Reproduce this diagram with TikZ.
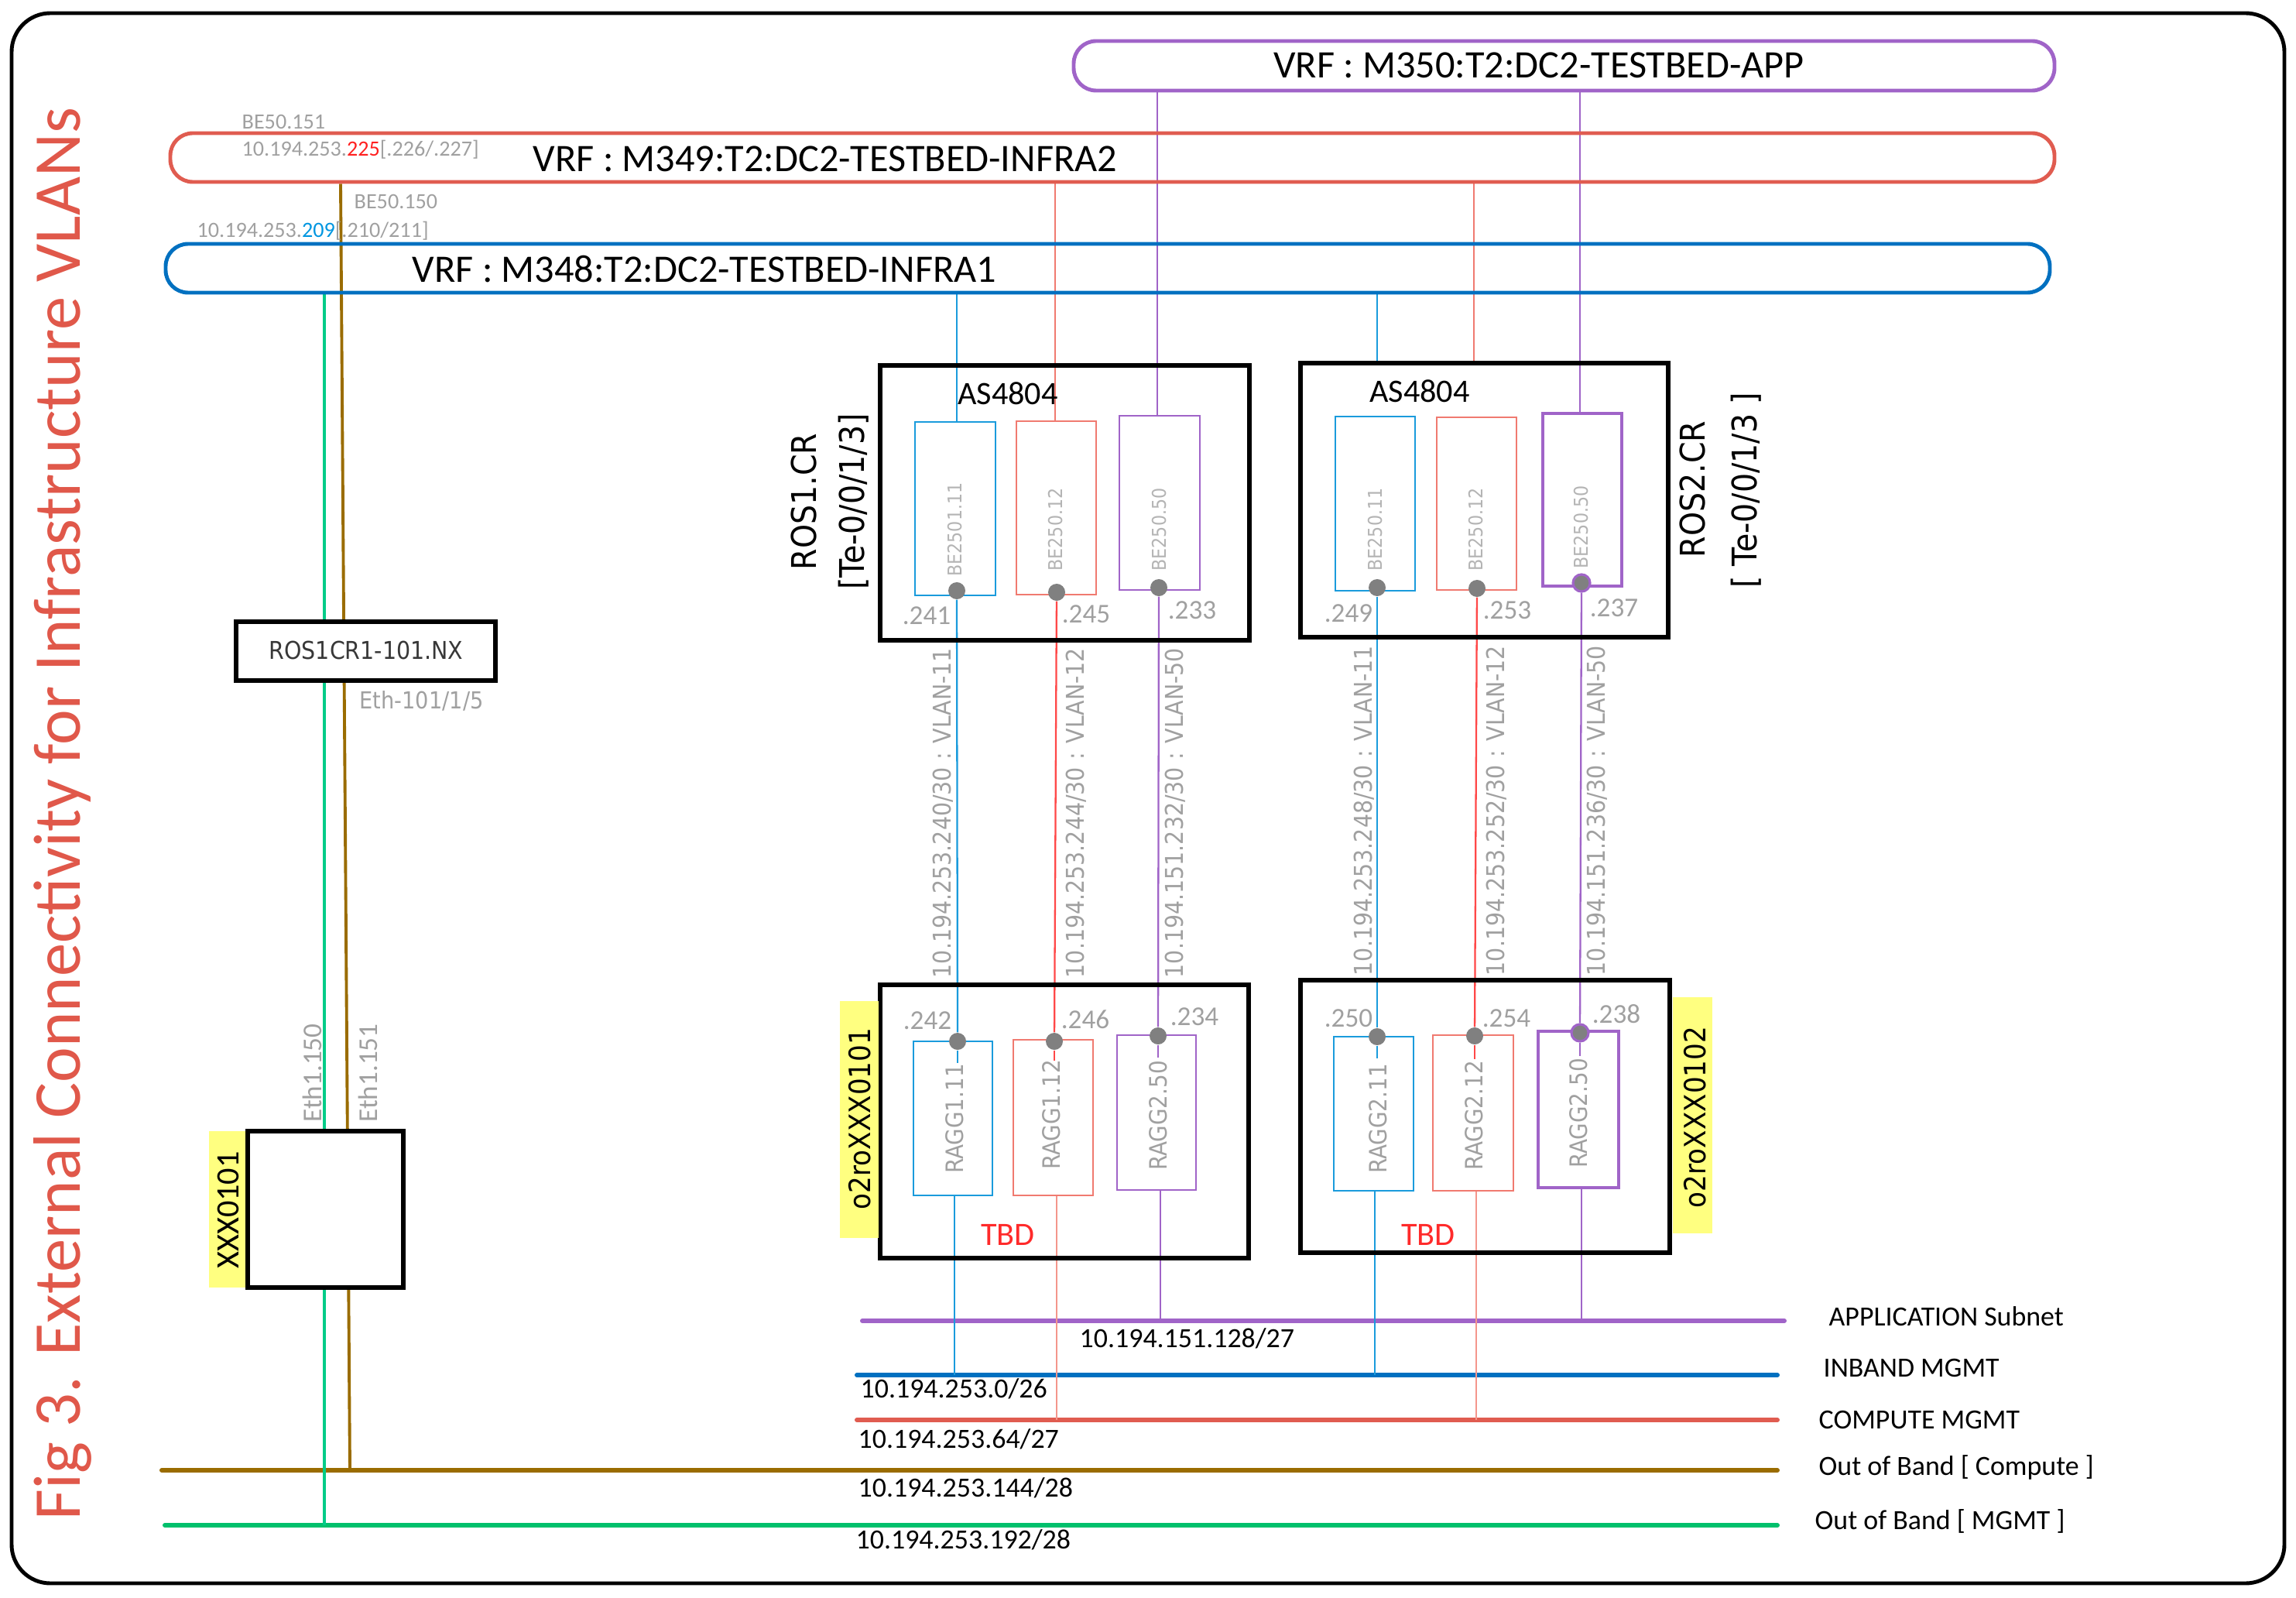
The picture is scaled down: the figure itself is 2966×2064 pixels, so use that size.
\documentclass[tikz,border=0pt]{standalone}
\usepackage{fontspec}
\setmainfont{Carlito}
\newfontfamily\geo[FakeStretch=0.9]{DejaVu Sans}
\usetikzlibrary{fit}
\pgfdeclarelayer{bg}
\pgfsetlayers{bg,main}
\definecolor{cBlueBar}{HTML}{0070C0}
\definecolor{cBlue}{HTML}{1A9BDC}
\definecolor{cRedBar}{HTML}{E05C50}
\definecolor{cRed}{HTML}{F07A70}
\definecolor{cRedV}{HTML}{FF4848}
\definecolor{cRedL}{HTML}{F4968C}
\definecolor{cPurple}{HTML}{A064C8}
\definecolor{cBrown}{HTML}{9A6C00}
\definecolor{cGreen}{HTML}{00C06C}
\definecolor{cGreenT}{HTML}{00CC88}
\definecolor{cGrey}{HTML}{A0A0A0}
\definecolor{cGreyL}{HTML}{B4B4B4}
\definecolor{cDot}{HTML}{808080}
\definecolor{cTitle}{HTML}{E0584A}
\definecolor{cYellow}{HTML}{FFFF80}
\definecolor{cTBD}{HTML}{FF2A2A}
\definecolor{cIpRed}{HTML}{FF2020}
\definecolor{cIpBlue}{HTML}{0096E0}
\newcommand{\myfs}[1]{\fontsize{#1}{#1}\selectfont}
\begin{document}
\begin{tikzpicture}[x=0.01cm,y=-0.01cm,
  vrfbar/.style={draw, line width=1.4pt, rounded corners=0.29cm, inner sep=0pt},
  devbox/.style={draw=black, line width=1.7pt, inner sep=0pt},
  devboxw/.style={devbox, fill=white},
  inbox/.style={draw, line width=0.75pt, inner sep=0pt},
  link/.style={line width=0.65pt},
  subline/.style={line width=1.7pt, line cap=round},
  portdot/.style={circle, fill=cDot, inner sep=0pt, minimum size=0.22cm},
  portlbl/.style={font=\myfs{10}, text=cGrey, inner sep=0pt},
  vlanlbl/.style={font=\geo\myfs{9}, text=cGrey, rotate=90, inner sep=0pt},
  belbl/.style={font=\geo\myfs{7}, text=cGreyL, rotate=90, inner sep=0pt},
  ragglbl/.style={font=\geo\myfs{8.8}, text=cGrey, rotate=90, inner sep=0pt},
  sublbl/.style={font=\myfs{10.2}, anchor=base west, inner sep=0pt},
  vrflbl/.style={font=\myfs{14.3}, anchor=base, inner sep=0pt},
  smallgrey/.style={font=\myfs{8}, text=cGrey, anchor=base west, inner sep=0pt},
  roslbl/.style={font=\geo\myfs{12.5}, rotate=90, anchor=base, inner sep=0pt},
  yellowbox/.style={fill=cYellow, inner sep=0pt},
]
\useasboundingbox (0,0) rectangle (2966,2064);

% frame
\node[draw=black, line width=1.4pt, rounded corners=0.5cm, inner sep=0pt, fit={(15,17) (2951,2045)}] (frame) {};

% title
\node[rotate=90, anchor=base, text=cTitle, font=\myfs{24.6}, inner sep=0pt] (title) at (103,1051) {Fig 3. External Connectivity for Infrastructure VLANs};

% VRF bars
\node[vrfbar, draw=cPurple, fit={(1387,53) (2654,117)}] (vrfApp) {};
\node[vrfbar, draw=cRedBar, fit={(220,172) (2654,235)}] (vrfI2) {};
\node[vrfbar, draw=cBlueBar, fit={(214,315) (2648,378)}] (vrfI1) {};
\node[vrflbl] (tApp) at (1988,101) {VRF : M350:T2:DC2-TESTBED-APP};
\node[vrflbl] (tI2) at (1066,222) {VRF : M349:T2:DC2-TESTBED-INFRA2};
\node[vrflbl] (tI1) at (910,365) {VRF : M348:T2:DC2-TESTBED-INFRA1};

\node[smallgrey] (l151) at (312,167) {BE50.151};
\node[smallgrey] (ip225) at (312,202) {10.194.253.\textcolor{cIpRed}{225}[.226/.227]};
\node[smallgrey] (l150) at (457,270) {BE50.150};
\node[smallgrey] (ip209) at (254,307) {10.194.253.\textcolor{cIpBlue}{209}[.210/211]};

% left devices
\node[devboxw, fit={(305,803) (640,879)}] (nx) {};
\node[font=\geo\myfs{9}, text=black!78, inner sep=0pt] (nxt) at (473,840) {ROS1CR1-101.NX};
\node[font=\geo\myfs{8.6}, text=cGrey, anchor=west, inner sep=0pt] (eth) at (464,905) {Eth-101/1/5};
\node[yellowbox, fit={(270,1461) (320,1663)}] (yx) {};
\node[devboxw, fit={(320,1461) (521,1663)}] (xxx) {};
\node[rotate=90, anchor=base, font=\myfs{12}, inner sep=0pt] (xxxt) at (308,1563) {XXX0101};
\node[rotate=90, anchor=base, font=\myfs{10}, text=cGrey, inner sep=0pt] (e150) at (415,1386) {Eth1.150};
\node[rotate=90, anchor=base, font=\myfs{10}, text=cGrey, inner sep=0pt] (e151) at (487,1386) {Eth1.151};

% ROS boxes
\node[devbox, fit={(1137,472) (1614,827)}] (ros1) {};
\node[devbox, fit={(1680,469) (2155,823)}] (ros2) {};
\node[font=\myfs{12}, inner sep=0pt] (as1) at (1302,508) {AS4804};
\node[font=\myfs{12}, inner sep=0pt] (as2) at (1834,505) {AS4804};
\node[roslbl] (r1a) at (1054,648) {ROS1.CR};
\node[roslbl] (r1b) at (1116,648) {[Te-0/0/1/3]};
\node[roslbl] (r2a) at (2202,632) {ROS2.CR};
\node[roslbl] (r2b) at (2269,633) {[ Te-0/0/1/3 ]};

\node[inbox, draw=cBlue, fit={(1182,545) (1286,769)}] (b1) {};
\node[inbox, draw=cRed, fit={(1313,544) (1416,768)}] (r1) {};
\node[inbox, draw=cPurple, fit={(1446,537) (1550,762)}] (p1) {};
\node[inbox, draw=cBlue, fit={(1725,538) (1828,763)}] (b2) {};
\node[inbox, draw=cRed, fit={(1856,539) (1959,762)}] (r2) {};
\node[inbox, draw=cPurple, line width=1.1pt, fit={(1993,534) (2095,757)}] (p2) {};
\node[belbl] (tb1) at (1234,684) {BE2501.11};
\node[belbl] (tr1) at (1364,684) {BE250.12};
\node[belbl] (tp1) at (1498,684) {BE250.50};
\node[belbl] (tb2) at (1777,684) {BE250.11};
\node[belbl] (tr2) at (1907,684) {BE250.12};
\node[belbl] (tp2) at (2043,681) {BE250.50};

\node[portdot] (d1b) at (1236,763) {};
\node[portdot] (d1r) at (1365,765) {};
\node[portdot] (d1p) at (1497,759) {};
\node[portdot] (d2b) at (1779,759) {};
\node[portdot] (d2r) at (1908,760) {};
\node[portdot, draw=cPurple, line width=0.9pt] (d2p) at (2043,753) {};

\node[portlbl] (p241) at (1197,795) {.241};
\node[portlbl] (p245) at (1403,793) {.245};
\node[portlbl] (p233) at (1540,788) {.233};
\node[portlbl] (p249) at (1742,792) {.249};
\node[portlbl] (p253) at (1947,788) {.253};
\node[portlbl] (p237) at (2085,785) {.237};

% VLAN labels
\node[vlanlbl] (v11) at (1218,1050) {10.194.253.240/30 : VLAN-11};
\node[vlanlbl] (v12) at (1390,1050) {10.194.253.244/30 : VLAN-12};
\node[vlanlbl] (v50) at (1518,1050) {10.194.151.232/30 : VLAN-50};
\node[vlanlbl] (w11) at (1762,1047) {10.194.253.248/30 : VLAN-11};
\node[vlanlbl] (w12) at (1933,1047) {10.194.253.252/30 : VLAN-12};
\node[vlanlbl] (w50) at (2063,1047) {10.194.151.236/30 : VLAN-50};

% RAGG boxes
\node[devbox, fit={(1137,1272) (1613,1625)}] (ragg1) {};
\node[devbox, fit={(1680,1266) (2157,1618)}] (ragg2) {};
\node[yellowbox, fit={(1085,1293) (1135,1599)}] (y1) {};
\node[yellowbox, fit={(2161,1288) (2212,1593)}] (y2) {};
\node[rotate=90, font=\geo\myfs{10.8}, inner sep=0pt] (o1) at (1111,1445) {o2roXXX0101};
\node[rotate=90, font=\geo\myfs{10.8}, inner sep=0pt] (o2) at (2190,1443) {o2roXXX0102};

\node[inbox, draw=cBlue, fit={(1180,1345) (1282,1544)}] (gb1) {};
\node[inbox, draw=cRed, fit={(1309,1343) (1412,1544)}] (gr1) {};
\node[inbox, draw=cPurple, fit={(1443,1337) (1545,1537)}] (gp1) {};
\node[inbox, draw=cBlue, fit={(1723,1339) (1826,1538)}] (gb2) {};
\node[inbox, draw=cRed, fit={(1851,1337) (1955,1538)}] (gr2) {};
\node[inbox, draw=cPurple, line width=1.1pt, fit={(1987,1332) (2091,1534)}] (gp2) {};
\node[ragglbl] (tg1) at (1233,1445) {RAGG1.11};
\node[ragglbl] (tg2) at (1358,1440) {RAGG1.12};
\node[ragglbl] (tg3) at (1496,1441) {RAGG2.50};
\node[ragglbl] (tg4) at (1780,1445) {RAGG2.11};
\node[ragglbl] (tg5) at (1904,1441) {RAGG2.12};
\node[ragglbl] (tg6) at (2039,1438) {RAGG2.50};

\node[portdot] (e1b) at (1237,1345) {};
\node[portdot] (e1r) at (1362,1345) {};
\node[portdot] (e1p) at (1496,1338) {};
\node[portdot] (e2b) at (1779,1339) {};
\node[portdot] (e2r) at (1905,1338) {};
\node[portdot, draw=cPurple, line width=0.9pt] (e2p) at (2041,1334) {};

\node[portlbl] (p242) at (1198,1318) {.242};
\node[portlbl] (p246) at (1402,1317) {.246};
\node[portlbl] (p234) at (1543,1313) {.234};
\node[portlbl] (p250) at (1742,1315) {.250};
\node[portlbl] (p254) at (1946,1315) {.254};
\node[portlbl] (p238) at (2088,1310) {.238};

\node[font=\myfs{12}, text=cTBD, inner sep=0pt] (tbd1) at (1302,1595) {TBD};
\node[font=\myfs{12}, text=cTBD, inner sep=0pt] (tbd2) at (1845,1595) {TBD};

% subnet lines
\coordinate (appW) at (1114,1706); \coordinate (appE) at (2305,1706);
\coordinate (inbW) at (1107,1776); \coordinate (inbE) at (2296,1776);
\coordinate (cmpW) at (1107,1834); \coordinate (cmpE) at (2296,1834);
\coordinate (obcW) at (209,1899);  \coordinate (obcE) at (2296,1899);
\coordinate (obmW) at (213,1970);  \coordinate (obmE) at (2296,1970);

\node[sublbl] (s1) at (1394,1740) {10.194.151.128/27};
\node[sublbl] (s2) at (1111,1805) {10.194.253.0/26};
\node[sublbl] (s3) at (1108,1870) {10.194.253.64/27};
\node[sublbl] (s4) at (1108,1933) {10.194.253.144/28};
\node[sublbl] (s5) at (1105,2000) {10.194.253.192/28};
\node[sublbl] (g1) at (2362,1712) {APPLICATION Subnet};
\node[sublbl] (g2) at (2355,1778) {INBAND MGMT};
\node[sublbl] (g3) at (2349,1845) {COMPUTE MGMT};
\node[sublbl] (g4) at (2349,1905) {Out of Band [ Compute ]};
\node[sublbl] (g5) at (2344,1975) {Out of Band [ MGMT ]};

% x positions for connectors
\coordinate (x1b) at (1236,0); \coordinate (x1r) at (1363,0); \coordinate (x1p) at (1495,0);
\coordinate (x2b) at (1779,0); \coordinate (x2r) at (1904,0); \coordinate (x2p) at (2041,0);
\coordinate (x3b) at (1233,0); \coordinate (x3r) at (1365,0); \coordinate (x3p) at (1499,0);
\coordinate (x4b) at (1776,0); \coordinate (x4r) at (1907,0); \coordinate (x4p) at (2043,0);
\coordinate (xg) at (419,0); \coordinate (xbt) at (440,0); \coordinate (xbb) at (452,0);

\begin{pgfonlayer}{bg}
\draw[subline, cPurple] (appW) -- (appE);
\draw[subline, cBlueBar] (inbW) -- (inbE);
\draw[subline, cRedBar] (cmpW) -- (cmpE);
\draw[subline, cBrown] (obcW) -- (obcE);
\draw[subline, cGreen] (obmW) -- (obmE);

% left verticals
\draw[line width=0.9pt, cGreenT] (vrfI1.south -| xg) -- (obmW -| xg);
\draw[line width=1.1pt, cBrown] (vrfI2.south -| xbt) -- (obcW -| xbb);

% top connectors
\draw[link, cBlue] (vrfI1.south -| x1b) -- (b1.north -| x1b);
\draw[link, cRed] (vrfI2.south -| x1r) -- (r1.north -| x1r);
\draw[link, cPurple] (vrfApp.south -| x1p) -- (p1.north -| x1p);
\draw[link, cBlue] (vrfI1.south -| x2b) -- (ros2.north -| x2b);
\draw[link, cRed] (vrfI2.south -| x2r) -- (ros2.north -| x2r);
\draw[link, cPurple] (vrfApp.south -| x2p) -- (p2.north -| x2p);

% ROS to RAGG
\draw[link, cBlue] (d1b) -- (e1b);
\draw[link, cRedV] (d1r) -- (e1r);
\draw[link, cPurple] (d1p) -- (e1p);
\draw[link, cBlue] (d2b) -- (e2b);
\draw[link, cRedV] (d2r) -- (e2r);
\draw[link, cPurple] (d2p) -- (e2p);

% stubs in RAGG boxes
\draw[link, cBlue] (e1b) -- ++(0,28);
\draw[link, cRedV] (e1r) -- ++(0,25);
\draw[link, cPurple] (e1p) -- ++(0,28);
\draw[link, cBlue] (e2b) -- ++(0,28);
\draw[link, cRedV] (e2r) -- ++(0,30);
\draw[link, cPurple] (e2p) -- ++(0,30);

% RAGG to subnets
\draw[link, cBlue] (gb1.south -| x3b) -- (inbW -| x3b);
\draw[link, cRedL] (gr1.south -| x3r) -- (cmpW -| x3r);
\draw[link, cPurple] (gp1.south -| x3p) -- (appW -| x3p);
\draw[link, cBlue] (gb2.south -| x4b) -- (inbW -| x4b);
\draw[link, cRedL] (gr2.south -| x4r) -- (cmpW -| x4r);
\draw[link, cPurple] (gp2.south -| x4p) -- (appW -| x4p);
\end{pgfonlayer}
\end{tikzpicture}
\end{document}
